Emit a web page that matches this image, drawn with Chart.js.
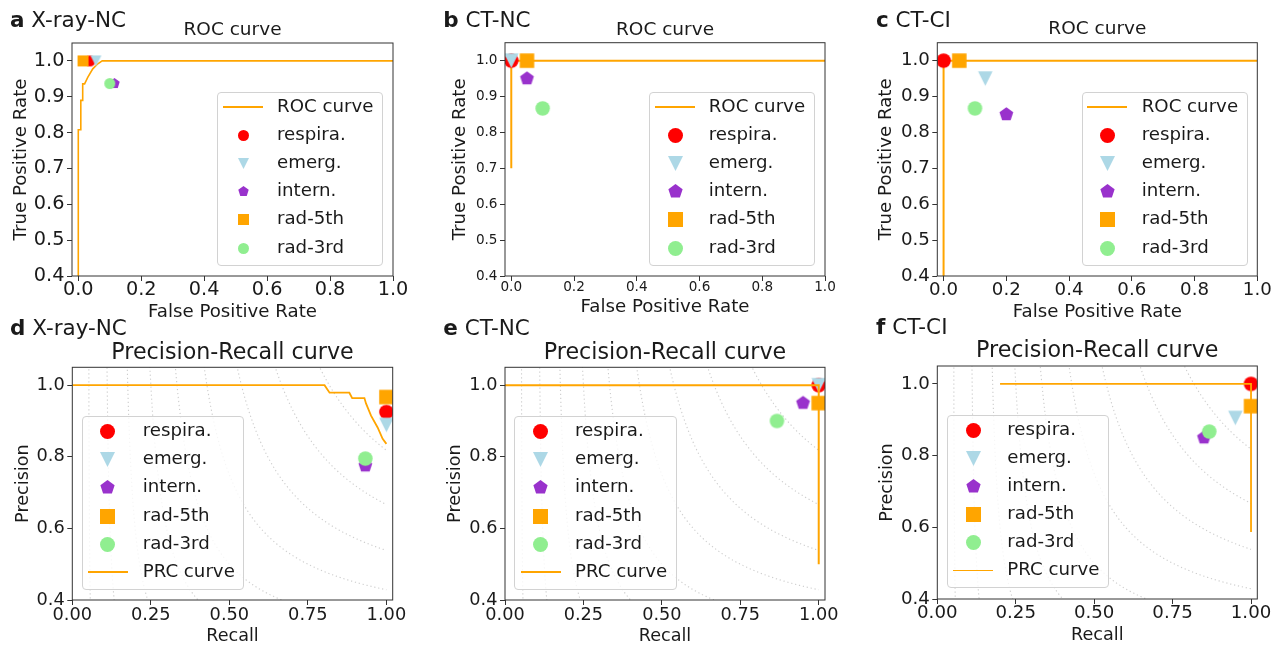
<!DOCTYPE html>
<html>
<head>
<meta charset="utf-8">
<title>ROC and Precision-Recall curves</title>
<script src="https://cdn.jsdelivr.net/npm/chart.js@4.4.1/dist/chart.umd.min.js"></script>
<style>
  html, body { margin: 0; padding: 0; background: #fff; }
  #fig { position: relative; width: 1281px; height: 648px; overflow: hidden; font-family: "DejaVu Sans", sans-serif; color: #1a1a1a; }
  #fig canvas.chart { position: absolute; }
  .tag { position: absolute; white-space: nowrap; line-height: 1; }
  .legend { position: absolute; box-sizing: border-box; border: 1px solid #d2d2d2; border-radius: 4px; background: rgba(255,255,255,0.8); }
  .lg-text { position: absolute; white-space: nowrap; line-height: 1; }
  .lg-mark { position: absolute; }
</style>
</head>
<body>
<div id="fig"></div>
<script>
// ---------- data ----------
const groupNames  = ['respira.', 'emerg.', 'intern.', 'rad-5th', 'rad-3rd'];
const groupColors = ['#ff0000', '#add8e6', '#9932cc', '#ffa500', '#90ee90'];
const groupShapes = ['circle', 'triangleDown', 'pentagon', 'square', 'circle'];
const curveColor = '#ffa500';

const rocTicksX = [0.0, 0.2, 0.4, 0.6, 0.8, 1.0];
const rocTicksY = [0.4, 0.5, 0.6, 0.7, 0.8, 0.9, 1.0];
const prTicksX = [0.0, 0.25, 0.5, 0.75, 1.0];
const prTicksY = [0.4, 0.6, 0.8, 1.0];
const isoF1Levels = [0.1, 0.2, 0.3, 0.4, 0.5, 0.6, 0.7, 0.8, 0.9];

// a: X-ray-NC, ROC
const xrayRocFpr = [0, 0, 0.008, 0.008, 0.014, 0.014, 0.02, 0.03, 0.046, 0.062, 0.076, 1.0];
const xrayRocTpr = [0, 0.808, 0.808, 0.89, 0.89, 0.936, 0.936, 0.954, 0.978, 0.992, 1.0, 1.0];
const xrayReaderFpr = [0.037, 0.056, 0.115, 0.015, 0.100];
const xrayReaderTpr = [1.000, 1.000, 0.937, 1.000, 0.937];

// b: CT-NC, ROC
const ctncRocFpr = [0, 0, 1.0];
const ctncRocTpr = [0.7, 1.0, 1.0];
const ctncReaderFpr = [0.000, 0.000, 0.050, 0.050, 0.100];
const ctncReaderTpr = [1.000, 1.000, 0.950, 1.000, 0.867];

// c: CT-CI, ROC
const ctciRocFpr = [0, 0, 1.0];
const ctciRocTpr = [0, 1.0, 1.0];
const ctciReaderFpr = [0.000, 0.133, 0.200, 0.050, 0.100];
const ctciReaderTpr = [1.000, 0.950, 0.850, 1.000, 0.867];

// d: X-ray-NC, PRC
const xrayPrcRecall    = [0, 0.803, 0.819, 0.882, 0.891, 0.930, 0.935, 0.951, 0.972, 0.988, 1.0];
const xrayPrcPrecision = [1.0, 1.0, 0.979, 0.979, 0.964, 0.964, 0.949, 0.915, 0.882, 0.850, 0.836];
const xrayReaderRecall    = [1.000, 1.000, 0.933, 1.000, 0.933];
const xrayReaderPrecision = [0.925, 0.889, 0.775, 0.967, 0.795];

// e: CT-NC, PRC
const ctncPrcRecall    = [0, 1.0, 1.0];
const ctncPrcPrecision = [1.0, 1.0, 0.5];
const ctncReaderRecall    = [1.000, 1.000, 0.950, 1.000, 0.867];
const ctncReaderPrecision = [1.000, 1.000, 0.950, 0.950, 0.900];

// f: CT-CI, PRC
const ctciPrcRecall    = [0.2, 1.0, 1.0];
const ctciPrcPrecision = [1.0, 1.0, 0.587];
const ctciReaderRecall    = [1.000, 0.950, 0.850, 1.000, 0.867];
const ctciReaderPrecision = [1.000, 0.905, 0.850, 0.938, 0.867];

// ---------- layout (absolute px on the page) ----------
const panels = [
  { letter: 'a', name: 'X-ray-NC', kind: 'roc', cx: xrayRocFpr, cy: xrayRocTpr, dx: xrayReaderFpr, dy: xrayReaderTpr,
    box: [0, 0, 420, 322], area: [72, 43, 393, 276], titleY: 30, tickY: 290, xTitleY: 312, yTitleX: 21,
    tickSize: 19.3, lineW: 1.6, mark: 11, legendMark: 11, tag: [10, 27.3],
    legend: { x: 217, y: 92, w: 166, h: 174, mx: 243, tx: 277, y0: 107, step: 28.2 } },
  { letter: 'b', name: 'CT-NC', kind: 'roc', cx: ctncRocFpr, cy: ctncRocTpr, dx: ctncReaderFpr, dy: ctncReaderTpr,
    box: [420, 0, 430, 322], area: [85, 42.7, 405, 276], titleY: 30, tickY: 287, xTitleY: 307, yTitleX: 40.7,
    tickSize: 13.6, lineW: 2, mark: 14.5, legendMark: 15, tag: [443.3, 27.3],
    legend: { x: 648.7, y: 92, w: 166.3, h: 174, mx: 675.2, tx: 708.7, y0: 107, step: 28.2 } },
  { letter: 'c', name: 'CT-CI', kind: 'roc', cx: ctciRocFpr, cy: ctciRocTpr, dx: ctciReaderFpr, dy: ctciReaderTpr,
    box: [850, 0, 431, 322], area: [87.3, 42.7, 407.3, 276], titleY: 29.5, tickY: 290, xTitleY: 312, yTitleX: 36,
    tickSize: 18.2, lineW: 2, mark: 14.5, legendMark: 15, tag: [876, 27.3],
    legend: { x: 1081.7, y: 92, w: 166, h: 174, mx: 1107.3, tx: 1141.7, y0: 107, step: 28.2 } },
  { letter: 'd', name: 'X-ray-NC', kind: 'prc', cx: xrayPrcRecall, cy: xrayPrcPrecision, dx: xrayReaderRecall, dy: xrayReaderPrecision,
    box: [0, 322, 420, 326], area: [72.3, 45.3, 392.7, 278], titleY: 31, tickY: 293, xTitleY: 314, yTitleX: 23,
    tickSize: 17.8, lineW: 1.8, mark: 14.5, legendMark: 15, tag: [10, 335],
    legend: { x: 81.7, y: 415.7, w: 162.6, h: 174.3, mx: 107.7, tx: 142.7, y0: 431.7, step: 28.1 } },
  { letter: 'e', name: 'CT-NC', kind: 'prc', cx: ctncPrcRecall, cy: ctncPrcPrecision, dx: ctncReaderRecall, dy: ctncReaderPrecision,
    box: [420, 322, 430, 326], area: [85, 45.3, 405, 278], titleY: 31.3, tickY: 293, xTitleY: 314, yTitleX: 35,
    tickSize: 17.7, lineW: 2, mark: 14.5, legendMark: 15, tag: [443.3, 335],
    legend: { x: 514.3, y: 416, w: 162.4, h: 174, mx: 540.7, tx: 575, y0: 431.7, step: 28.1 } },
  { letter: 'f', name: 'CT-CI', kind: 'prc', cx: ctciPrcRecall, cy: ctciPrcPrecision, dx: ctciReaderRecall, dy: ctciReaderPrecision,
    box: [850, 322, 431, 326], area: [87.3, 44, 407.3, 277], titleY: 29.7, tickY: 291, xTitleY: 313, yTitleX: 37,
    tickSize: 18.2, lineW: 1.8, mark: 14.5, legendMark: 15, tag: [876, 334],
    legend: { x: 946.7, y: 415, w: 162.3, h: 173, mx: 973.3, tx: 1007.3, y0: 430, step: 28.1 } }
];

const textColor = '#1a1a1a';
const spineColor = '#333';
const tagSize = 21.5;
const legendFont = 18.2;

Chart.defaults.font.family = "'DejaVu Sans', sans-serif";
Chart.defaults.color = textColor;

// marker shapes like matplotlib (o, v, p, s)
function drawMarker(g, shape, cx, cy, s, color) {
  const r = s / 2;
  g.fillStyle = color;
  g.beginPath();
  if (shape === 'circle') {
    g.arc(cx, cy, r, 0, Math.PI * 2);
  } else if (shape === 'square') {
    g.rect(cx - r, cy - r, s, s);
  } else if (shape === 'triangleDown') {
    g.moveTo(cx - r, cy - r);
    g.lineTo(cx + r, cy - r);
    g.lineTo(cx, cy + r);
  } else if (shape === 'pentagon') {
    for (let k = 0; k < 5; k++) {
      const a = -Math.PI / 2 + k * 2 * Math.PI / 5;
      const px = cx + r * Math.cos(a), py = cy + r * Math.sin(a);
      if (k === 0) g.moveTo(px, py); else g.lineTo(px, py);
    }
  }
  g.closePath();
  g.fill();
}

function markerCanvas(shape, color, size) {
  const dim = Math.ceil(size) + 4;
  const c = document.createElement('canvas');
  c.width = dim; c.height = dim;
  drawMarker(c.getContext('2d'), shape, dim / 2, dim / 2, size, color);
  return c;
}

// dotted iso-F1 guide curves behind the PR data
const isoF1Plugin = {
  id: 'isoF1',
  beforeDatasetsDraw(chart, args, opts) {
    const levels = opts.levels || [];
    if (!levels.length) return;
    const { ctx, chartArea: a, scales: { x, y } } = chart;
    ctx.save();
    ctx.beginPath();
    ctx.rect(a.left, a.top, a.right - a.left, a.bottom - a.top);
    ctx.clip();
    ctx.strokeStyle = 'rgba(128,128,128,0.4)';
    ctx.lineWidth = 1.1;
    ctx.setLineDash([1.2, 2.8]);
    levels.forEach(f => {
      ctx.beginPath();
      let started = false;
      for (let k = 0; k <= 600; k++) {
        const r = 0.01 + 0.99 * k / 600;
        const p = f * r / (2 * r - f);
        if (!(p >= 0) || p > 3) { started = false; continue; }
        const px = x.getPixelForValue(r), py = y.getPixelForValue(p);
        if (!started) { ctx.moveTo(px, py); started = true; } else ctx.lineTo(px, py);
      }
      ctx.stroke();
    });
    ctx.restore();
  }
};

// four spines
const framePlugin = {
  id: 'frame',
  afterDatasetsDraw(chart) {
    const { ctx, chartArea: a } = chart;
    ctx.save();
    ctx.strokeStyle = spineColor;
    ctx.lineWidth = 1;
    ctx.strokeRect(a.left, a.top, a.right - a.left, a.bottom - a.top);
    ctx.restore();
  }
};

function renderPanel(p) {
  const fig = document.getElementById('fig');
  const [bx, by, bw, bh] = p.box;
  const [al, at, ar, ab] = p.area;
  const isRoc = p.kind === 'roc';
  const titleSize = isRoc ? 18.5 : 22.2;
  const axisSize = isRoc ? 18.2 : 17.6;
  const tickLen = 5;
  const xTicks = isRoc ? rocTicksX : prTicksX;
  const yTicks = isRoc ? rocTicksY : prTicksY;
  const decimals = isRoc ? 1 : 2;

  const canvas = document.createElement('canvas');
  canvas.className = 'chart';
  canvas.width = bw; canvas.height = bh;
  canvas.style.left = bx + 'px'; canvas.style.top = by + 'px';
  canvas.style.width = bw + 'px'; canvas.style.height = bh + 'px';
  fig.appendChild(canvas);

  const markerSets = groupNames.map((name, i) => ({
    label: name,
    data: [{ x: p.dx[i], y: p.dy[i] }],
    pointStyle: markerCanvas(groupShapes[i], groupColors[i], p.mark),
    pointRadius: p.mark / 2,
    pointHoverRadius: p.mark / 2,
    showLine: false,
    clip: 0
  }));
  const curveSet = {
    label: isRoc ? 'ROC curve' : 'PRC curve',
    data: p.cx.map((x, i) => ({ x: x, y: p.cy[i] })),
    showLine: true,
    borderColor: curveColor,
    borderWidth: p.lineW,
    pointRadius: 0,
    pointHoverRadius: 0,
    fill: false,
    tension: 0,
    clip: 0
  };
  // ROC curve sits under the readers, PRC curve is drawn last
  const drawList = isRoc ? [curveSet, ...markerSets] : [...markerSets, curveSet];
  drawList.forEach((d, i) => { d.order = drawList.length - i; });

  const titlePadTop = p.titleY - 0.6 * titleSize;

  new Chart(canvas, {
    type: 'scatter',
    data: { datasets: drawList },
    options: {
      responsive: false,
      animation: false,
      events: [],
      layout: { padding: { left: 0, top: 0, right: bw - ar, bottom: 0 } },
      plugins: {
        legend: { display: false },
        tooltip: { enabled: false },
        title: {
          display: true,
          text: isRoc ? 'ROC curve' : 'Precision-Recall curve',
          fullSize: false,
          color: textColor,
          font: { size: titleSize, weight: 'normal', lineHeight: 1.2 },
          padding: { top: titlePadTop, bottom: at - titlePadTop - 1.2 * titleSize }
        },
        isoF1: { levels: isRoc ? [] : isoF1Levels }
      },
      scales: {
        x: {
          type: 'linear',
          min: isRoc ? -0.02 : 0,
          max: isRoc ? 1.0 : 1.02,
          afterBuildTicks: s => { s.ticks = xTicks.map(v => ({ value: v })); },
          afterFit: s => { s.height = bh - ab; },
          grid: { display: true, drawOnChartArea: false, drawTicks: true, tickLength: tickLen, color: spineColor, lineWidth: 1 },
          border: { display: false },
          ticks: {
            autoSkip: false, maxRotation: 0, minRotation: 0,
            padding: (p.tickY - ab) - tickLen - 0.6 * p.tickSize,
            font: { size: p.tickSize }, color: textColor,
            callback: v => Number(v).toFixed(decimals)
          },
          title: {
            display: true,
            text: isRoc ? 'False Positive Rate' : 'Recall',
            color: textColor,
            font: { size: axisSize, lineHeight: 1.2 },
            padding: { top: 0, bottom: (bh - p.xTitleY) - 0.6 * axisSize }
          }
        },
        y: {
          type: 'linear',
          min: 0.4,
          max: 1.05,
          afterBuildTicks: s => { s.ticks = yTicks.map(v => ({ value: v })); },
          afterFit: s => { s.width = al; },
          grid: { display: true, drawOnChartArea: false, drawTicks: true, tickLength: tickLen, color: spineColor, lineWidth: 1 },
          border: { display: false },
          ticks: {
            autoSkip: false, padding: 2.5,
            font: { size: p.tickSize }, color: textColor,
            callback: v => Number(v).toFixed(1)
          },
          title: {
            display: true,
            text: isRoc ? 'True Positive Rate' : 'Precision',
            color: textColor,
            font: { size: axisSize, lineHeight: 1.2 },
            padding: { top: p.yTitleX - 0.6 * axisSize, bottom: 0 }
          }
        }
      }
    },
    plugins: [isoF1Plugin, framePlugin]
  });

  // panel tag, e.g. "a X-ray-NC"
  const tag = document.createElement('div');
  tag.className = 'tag';
  tag.style.fontSize = tagSize + 'px';
  tag.style.left = p.tag[0] + 'px';
  tag.style.top = (p.tag[1] - 0.846 * tagSize) + 'px';
  tag.innerHTML = '<b>' + p.letter + '</b> ' + p.name;
  fig.appendChild(tag);

  // legend box
  const L = p.legend;
  const box = document.createElement('div');
  box.className = 'legend';
  box.style.left = L.x + 'px'; box.style.top = L.y + 'px';
  box.style.width = L.w + 'px'; box.style.height = L.h + 'px';
  fig.appendChild(box);

  const groups = groupNames.map((n, i) => ({ label: n, i: i }));
  const curveEntry = { label: curveSet.label, curve: true };
  const entries = isRoc ? [curveEntry, ...groups] : [...groups, curveEntry];
  entries.forEach((e, k) => {
    const cy = L.y0 + k * L.step;
    if (e.curve) {
      const ln = document.createElement('div');
      ln.className = 'lg-mark';
      ln.style.left = (L.mx - 20) + 'px';
      ln.style.top = (cy - p.lineW / 2) + 'px';
      ln.style.width = '40px';
      ln.style.height = p.lineW + 'px';
      ln.style.background = curveColor;
      fig.appendChild(ln);
    } else {
      const m = markerCanvas(groupShapes[e.i], groupColors[e.i], p.legendMark);
      m.className = 'lg-mark';
      m.style.left = (L.mx - m.width / 2) + 'px';
      m.style.top = (cy - m.height / 2) + 'px';
      fig.appendChild(m);
    }
    const t = document.createElement('div');
    t.className = 'lg-text';
    t.style.fontSize = legendFont + 'px';
    t.style.left = L.tx + 'px';
    t.style.top = (cy - 0.573 * legendFont) + 'px';
    t.textContent = e.label;
    fig.appendChild(t);
  });
}

panels.forEach(renderPanel);
</script>
</body>
</html>
